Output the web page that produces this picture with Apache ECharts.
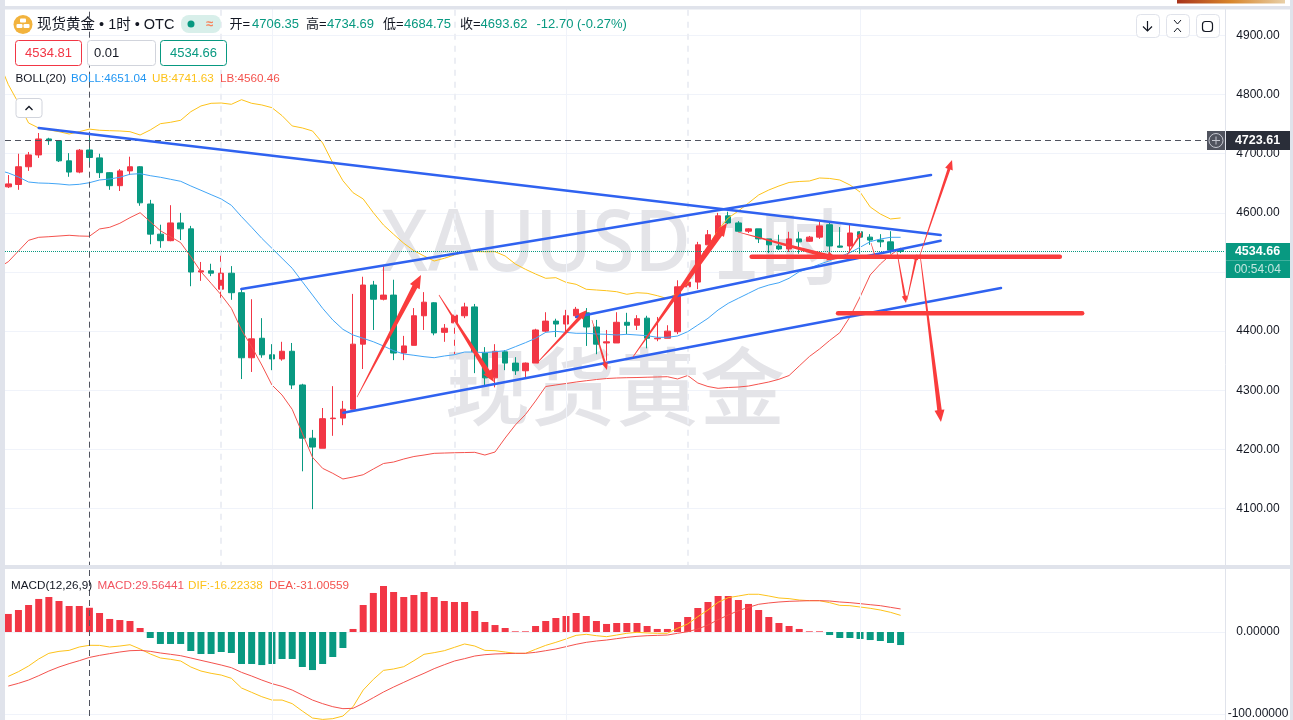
<!DOCTYPE html>
<html><head><meta charset="utf-8">
<style>html,body{margin:0;padding:0;background:#fff}#c{width:1293px;height:720px}</style>
<script src="https://cdn.jsdelivr.net/npm/echarts@6/dist/echarts.min.js"></script>
</head><body><div id="c"></div>
<script>
const opens=[4644,4648,4678,4698,4725,4722,4688,4669,4706.35,4693,
4668,4646,4671,4678,4615,4564,4553,4583,4573,4500,
4502,4471,4498,4465,4355,4388,4360,4353,4366,4309,
4219,4202,4252,4253,4268,4378,4478,4454,4461,4363,
4376,4426,4448,4398,4414,4426,4441,4363,4321,4365,
4346,4333,4346,4400,4417,4412,4426,4431,4407,4380,
4380,4415,4410,4422,4387,4388,4399,4475,4483,4546,
4563,4595,4583,4569,4573,4556,4544,4539,4556,4552,
4559,4580,4544,4544,4568,4559,4554,4551,4537];
const closes=[4649,4678,4698,4725,4722,4688,4669,4706,4693.62,4668,
4646,4671,4678,4617,4564,4553,4583,4573,4500,4502,
4498,4498,4465,4355,4387,4360,4353,4366,4309,4219,
4204,4252,4253,4268,4378,4478,4454,4461,4363,4375,
4426,4449,4397,4405,4427,4441,4365,4321,4366,4346,
4333,4346,4402,4417,4412,4426,4437,4407,4378,4382,
4415,4410,4421,4388,4388,4400,4475,4483,4546,4563,
4595,4583,4569,4573,4556,4546,4539,4556,4551,4559,
4578,4544,4542,4566,4559,4554,4551,4537,4534.66];
const lows=[4642,4639,4671,4693,4715,4686,4661,4667,4684.75,4659,
4639,4637,4664,4612,4547,4541,4552,4554,4476,4485,
4493,4448,4453,4319,4331,4355,4334,4350,4302,4163,
4099,4202,4223,4241,4268,4336,4402,4452,4351,4351,
4376,4402,4393,4382,4361,4422,4329,4309,4305,4334,
4326,4321,4346,4398,4390,4400,4422,4375,4361,4350,
4380,4395,4402,4371,4383,4388,4395,4471,4471,4546,
4563,4581,4568,4566,4549,4532,4537,4534,4531,4551,
4556,4531,4541,4532,4531,4546,4542,4531,4532];
const highs=[4664,4700,4703,4735,4727,4722,4701,4708,4734.69,4700,
4669,4674,4695,4679,4622,4580,4613,4600,4578,4517,
4514,4536,4510,4473,4454,4422,4378,4382,4380,4311,
4233,4270,4307,4282,4463,4492,4485,4510,4487,4392,
4439,4466,4449,4412,4430,4448,4446,4373,4378,4368,
4356,4347,4404,4432,4421,4436,4441,4439,4419,4402,
4432,4431,4427,4426,4424,4410,4486,4491,4551,4571,
4600,4602,4586,4574,4573,4556,4563,4568,4568,4561,
4585,4583,4576,4580,4569,4564,4564,4569,4538];
// Bollinger bands; first entry belongs to the candle just left of the visible range
const bollUpper=[4858.6,4817,4785.8,4752,4743.6,4740.2,4737.3,4733.4,4737.3,4741.63,4739.7,
4739,4738.5,4737.3,4731.7,4740.2,4750.8,4753.2,4756.6,4771.1,4780.8,
4785.3,4785.8,4783.6,4791.4,4785.3,4782.5,4777.9,4764.4,4747,4743.6,
4738.5,4718.2,4684.4,4654.4,4634.1,4623.5,4600.3,4579.5,4563.8,4548.6,
4536.1,4527.1,4518.6,4523.2,4528.8,4534.4,4534.5,4534.3,4534.4,4527.1,
4513.6,4504.6,4496.6,4489.4,4490.4,4482.6,4479.2,4470.8,4469.6,4468.4,
4466.7,4462.3,4465,4464,4460,4454.9,4464.5,4481.4,4511.9,4542.3,
4571.1,4591.4,4603.2,4616.7,4630.3,4638.7,4645.5,4651.4,4653.1,4653.9,
4659,4658.2,4655.6,4647.2,4635.3,4610,4598.1,4589.7,4591.4];
const bollMid=[4672.5,4667.5,4660.7,4652.2,4650.5,4650,4648.9,4647.2,4648.3,4651.04,4655.6,
4657.3,4660.2,4665.3,4666.3,4662.9,4660.2,4656.8,4653.4,4645.5,4638.2,
4630.8,4623.5,4612.8,4593.6,4575.6,4557,4540.1,4523.2,4506.3,4483.6,
4461.1,4438.6,4418.9,4403.1,4393.5,4387.9,4382.1,4374.9,4366.9,4361.4,
4359.2,4356.8,4355.1,4358,4360.2,4364.7,4364.7,4363.5,4365.2,4366.9,
4373.7,4380.5,4387.9,4398,4399.7,4398,4396.4,4396.4,4395.2,4394.7,
4393.5,4394.7,4393.5,4392.3,4389.6,4389.6,4391.8,4399.1,4410.4,4421.7,
4435.8,4447.1,4455.6,4464,4472.5,4478,4481.9,4489.4,4500.5,4506.3,
4513.1,4519.1,4525.9,4532.7,4541.8,4551.3,4555.8,4558.7,4558.7];
const bollLower=[4507,4517.4,4535.5,4553.6,4558.7,4559.7,4560.9,4562.1,4560.9,4560.46,4572.8,
4575.6,4582.4,4591.9,4600.3,4585.1,4569.9,4559.7,4549.6,4525.9,4500.5,
4480.9,4461.1,4438.6,4402,4373.7,4342.7,4309,4292,4267.8,4227.2,
4186.7,4168,4159.6,4150,4153.3,4157.2,4166.9,4176.2,4178.7,4183.8,
4188,4190.5,4193.4,4193.9,4194.4,4194.7,4195.1,4190.5,4195.6,4219.3,
4241.3,4259,4281.9,4306.4,4309,4311.5,4314,4316.2,4318.2,4319.9,
4320.8,4321.3,4321.6,4322.1,4322.5,4323,4319.1,4325,4312.3,4306.4,
4303.3,4304.7,4305.5,4307.2,4310.6,4314,4318.6,4325,4341.1,4357.1,
4369.8,4384.2,4397.4,4423.9,4457.8,4495,4513.6,4528.8,4540.6];
const macdHist=[22,26.8,32.9,40.3,42.7,37.8,31.7,31.7,29.56,23.2,
15.9,14.6,13.4,4.9,-7.3,-14.6,-14.6,-14.6,-23.2,-26.8,
-26.8,-24.4,-25.6,-39,-39,-40.3,-39,-32.9,-32.9,-42.7,
-46.4,-39,-30.5,-19.5,3.7,32.9,47.6,56.1,48.8,42.7,
45.1,48.8,42.7,37.8,36.6,36.6,25.6,12.2,8.5,4.9,
0.8,0.8,7.3,13.4,17.1,19.5,23.2,19.5,13.4,9.8,
11,11,11,7.3,3.7,3.7,12.2,18.3,29.3,36.6,
43.9,43.9,39,34.2,26.8,18.3,11,7.3,3.7,0.8,
0.8,-3.7,-7.3,-7.3,-8.5,-9.8,-11,-13.4,-15.9];
const macdDif=[-54.1,-48.4,-41.5,-32.9,-26,-23.6,-22.4,-18.3,-16.22,-16.3,
-18.3,-17.1,-15.5,-20.7,-26.8,-31.7,-33.3,-35.4,-42.7,-47.6,
-50.4,-52.5,-56.5,-68.3,-73.6,-78.9,-83,-83,-87.4,-96.4,
-104.9,-106.6,-105.7,-102.5,-91.1,-70.8,-57.8,-46.8,-45.1,-42.3,
-35,-27.2,-25.2,-22.8,-18.7,-14.6,-17.1,-22.4,-22.8,-24.4,
-26,-26,-21.1,-16.3,-12.6,-8.5,-4.1,-2.8,-4.5,-5.7,
-3.7,-1.6,-0.4,-1.2,-1.6,-1.6,4.5,9.8,18.7,26.8,
36.2,41.9,43.9,46,46,43.9,41.5,40.7,39,38.2,
38.2,35.8,32.5,32.1,30.5,28.9,26.8,24,20.3];
const macdDea=[-65.9,-62.6,-58.6,-53.3,-47.6,-42.7,-38.6,-35,-31.01,-28.5,
-26.4,-24.4,-22.8,-22.4,-23.6,-25.6,-27.2,-28.9,-31.7,-34.6,
-37.4,-40.3,-43.5,-49.2,-53.7,-58.6,-63,-66.3,-70.8,-76.9,
-83,-87.4,-91.1,-93.5,-93.1,-87,-80.1,-73.2,-67.1,-61.4,
-55.7,-50.4,-44.7,-39.9,-35.4,-32.5,-29.3,-27.7,-26.8,-26.4,
-26,-26,-24.8,-22.8,-20.7,-17.9,-15,-12.6,-11,-9.8,
-8.1,-6.5,-5.3,-4.5,-4.1,-3.7,-1.6,0.4,3.7,8.5,
15,20.7,26,30.1,33.8,35.4,36.6,37.4,37.8,38.2,
38.2,37.8,36.6,35.8,34.6,33.3,32.1,30.1,28.1];
// drawn objects in candle-index / price coordinates
const trendLines=[[3,4743.6,91.95,4562.6],[22.98,4471.3,91,4664.1],[33.04,4262.1,97.9,4473],[56.03,4423.9,91.95,4553]];
const levelLines=[[73.31,4525.9,103.7,4525.9],[81.83,4430.2,105.9,4430.2]];
const arrows=[[34.39,4288.6,40.7,4495],[42.47,4461.1,47.9,4314],[52.14,4346.1,57.07,4435.8],[57.56,4418.9,59.04,4334.3],
[61.6,4356.3,70.88,4582.9],[71.96,4567.7,81.82,4522],[82.71,4528.8,84.19,4567.7],[85.08,4549.1,85.47,4527.1],
[87.64,4533.9,88.53,4447.6],[88.63,4452.7,89.62,4530.5],[89.91,4530.5,91.98,4246.4],[89.91,4528.8,93.07,4689.4]];
const arrowShaft=[5.5,5,3.5,2.2,6.5,4.5,2.2,1,2.2,2.2,4.5,3];
const arrowHead=[11,10,8,6,11,9,5,1,6,5,10,8];
const sessionMarks=[21,44,67];
const gridMarks=[26,55,84];
const crosshairIndex=8, crosshairPrice=4723.61, lastPrice=4534.66;
const priceTicks={min:4000,max:4950,step:100};
const macdTicks={min:-200,max:80,step:100};

const RED='#f23645',GREEN='#089981',GRID='#f0f3fa',BAND='#e0e3eb',ARROW='#fa3c3c',TREND='#2f62f0',CROSS='#50535e';
const LATIN='"Liberation Sans","Noto Sans CJK SC",sans-serif';
const X0=-0.325,X1=119.99;
const idx=a=>a.map((v,i)=>[i,v]);
const idxBoll=a=>a.map((v,i)=>[i-1,v]);
const candleData=opens.map((o,i)=>[i,o,closes[i],lows[i],highs[i]]);

function lineS(name,data,color,g,z,w){return{name,type:'line',data,xAxisIndex:g,yAxisIndex:g,symbol:'none',silent:true,z:z||3,lineStyle:{color,width:w||1},clip:true};}
function vMark(i,color,type,width){return{xAxis:i,lineStyle:{color,type,width}};}
function marksSeries(g,y,data,z){return{type:'line',xAxisIndex:g,yAxisIndex:g,data:[[0,y]],symbol:'none',silent:true,z:z,lineStyle:{width:0},
 markLine:{silent:true,symbol:'none',label:{show:false},animation:false,precision:4,data}};}

const grey='#d1d4dc';
function t(x,y,text,color,size,o){o=o||{};return{type:'text',x,y,z:o.z||110,silent:true,scaleY:o.scaleY||1,
 style:{text,fill:color,font:(o.weight?o.weight+' ':'')+size+'px '+(o.family||LATIN),textAlign:o.align||'left',textVerticalAlign:'middle',textBaseline:'middle'}};}
function r(x,y,w,h,fill,o){o=o||{};return{type:'rect',silent:true,z:o.z||105,shape:{x,y,width:w,height:h,r:o.r||0},style:{fill,stroke:o.stroke||null,lineWidth:o.lw||1}};}
function seg(x1,y1,x2,y2,color,w,z){return{type:'line',silent:true,z:z||110,shape:{x1,y1,x2,y2},style:{stroke:color,lineWidth:w||1}};}
function btn(x){return r(x+.5,14.5,23,23,'#fff',{stroke:'#e0e3eb',r:4,lw:1});}

const graphic=[
 // watermark
 t(381,247,'XAUUSD',"#e4e4e8",77,{z:1,scaleY:1.1,weight:500,family:'"Noto Sans",sans-serif'}),
 t(684,247,',',"#e4e4e8",77,{z:1,weight:500,family:'"Noto Sans",sans-serif'}),
 t(712,247,'1时',"#e4e4e8",84,{z:1,weight:500,family:'"Noto Sans CJK SC",sans-serif'}),
 t(445,387,'现货黄金',"#e4e4e8",85,{z:1,weight:500,family:'"Noto Sans CJK SC",sans-serif'}),
 // frame
 r(0,0,1293,6,'#fff'),r(0,6,1293,3.5,BAND),r(0,0,5,720,BAND),r(1290,0,3,720,BAND),r(5,565,1285,4,BAND),
 {type:'rect',silent:true,z:106,shape:{x:1177,y:0,width:108,height:3.5},style:{fill:{type:'linear',x:0,y:0,x2:1,y2:0,colorStops:[{offset:0,color:'#a8321a'},{offset:.5,color:'#d8862c'},{offset:1,color:'#e8d0a8'}]}}},
 seg(1225.5,9,1225.5,720,BAND,1,105),
 // header
 {type:'circle',silent:true,z:106,shape:{cx:23,cy:24.5,r:9.5},style:{fill:'#f2b33d'}},
 r(20,18.5,6,4,'#fff',{z:107,r:1}),r(16.5,24,6,4,'#fff',{z:107,r:1}),r(23.5,24,6,4,'#fff',{z:107,r:1}),
 t(37,24.5,'现货黄金 • 1时 • OTC','#131722',14.5),
 r(181,15,40,18,'#d8efea',{r:8}),
 {type:'circle',silent:true,z:110,shape:{cx:191,cy:24,r:3.5},style:{fill:GREEN}},
 t(206,24,'≈','#f7825a',13,{weight:'bold'}),
 t(229.5,24.5,'开=','#131722',13),t(252,24.5,'4706.35',GREEN,13),
 t(306,24.5,'高=','#131722',13),t(327,24.5,'4734.69',GREEN,13),
 t(383,24.5,'低=','#131722',13),t(404,24.5,'4684.75',GREEN,13),
 t(460,24.5,'收=','#131722',13),t(480.5,24.5,'4693.62',GREEN,13),
 t(536.5,24.5,'-12.70 (-0.27%)',GREEN,13),
 // order boxes
 r(15.5,40.5,66,25,'#fff',{stroke:RED,r:3}),t(48.5,53.5,'4534.81',RED,13,{align:'center'}),
 r(87.5,40.5,68,25,'#fff',{stroke:grey,r:3}),t(94,53.5,'0.01','#131722',13),
 r(160.5,40.5,66,25,'#fff',{stroke:GREEN,r:3}),t(193.5,53.5,'4534.66',GREEN,13,{align:'center'}),
 // indicator legends
 t(15.5,79,'BOLL(20)','#131722',11.7),t(71,79,'BOLL:4651.04','#2196f3',11.7),t(152,79,'UB:4741.63','#fdc21a',11.7),t(220,79,'LB:4560.46','#f4524d',11.7),
 r(16,98.5,26,19,'#fff',{stroke:grey,r:3}),
 {type:'polyline',silent:true,z:110,shape:{points:[[25.5,110],[29,106.5],[32.5,110]]},style:{stroke:'#131722',lineWidth:1.3,fill:null}},
 t(11,586,'MACD(12,26,9)','#131722',11.7),t(97.5,586,'MACD:29.56441','#f2525f',11.7),t(188,586,'DIF:-16.22338','#fdc21a',11.7),t(269,586,'DEA:-31.00559','#f4524d',11.7),
 // toolbar
 btn(1136),btn(1166),btn(1196),
 seg(1147.5,21,1147.5,31,'#131722',1.2),
 {type:'polyline',silent:true,z:110,shape:{points:[[1143,26.5],[1147.5,31],[1152,26.5]]},style:{stroke:'#131722',lineWidth:1.2,fill:null}},
 {type:'polyline',silent:true,z:110,shape:{points:[[1174,20],[1177.5,24],[1181,20]]},style:{stroke:'#131722',lineWidth:1,fill:null}},
 {type:'polyline',silent:true,z:110,shape:{points:[[1174,32],[1177.5,28],[1181,32]]},style:{stroke:'#131722',lineWidth:1,fill:null}},
 r(1202.5,21.5,10,10,'#fff',{stroke:'#131722',r:3,lw:1.2,z:110}),
 // tags
 r(1207,131,18,19,CROSS,{z:108}),
 {type:'circle',silent:true,z:110,shape:{cx:1216,cy:140.5,r:7},style:{fill:null,stroke:'#c4c6cf',lineWidth:1}},
 seg(1212,140.5,1220,140.5,'#c4c6cf',1),seg(1216,136.5,1216,144.5,'#c4c6cf',1),
 r(1226,131,64,19,'#2a2e39',{z:108}),t(1257.5,140.5,'4723.61','#fff',12.5,{align:'center',weight:'bold'}),
 r(1226,243,64,35,GREEN,{z:108}),seg(1226,260.5,1290,260.5,'#3fb09d',1),
 t(1257.5,252,'4534.66','#fff',12.5,{align:'center',weight:'bold'}),t(1257.5,270,'00:54:04','#c3e6df',12,{align:'center'})
];

function renderSeg(color,width){return (p,api)=>{const a=api.coord([api.value(0),api.value(1)]),b=api.coord([api.value(2),api.value(3)]);
 return{type:'line',shape:{x1:a[0],y1:a[1],x2:b[0],y2:b[1]},style:{stroke:color,lineWidth:width,lineCap:'round'}};};}
function renderArrow(p,api){const a=api.coord([api.value(0),api.value(1)]),b=api.coord([api.value(2),api.value(3)]);
 const w=arrowShaft[p.dataIndex],h=arrowHead[p.dataIndex];
 const dx=b[0]-a[0],dy=b[1]-a[1],L=Math.hypot(dx,dy),ux=dx/L,uy=dy/L,nx=-uy,ny=ux,hl=Math.min(h*1.2,L*.4);
 const nk=[b[0]-ux*hl,b[1]-uy*hl];
 const pts=[[a[0]+nx*.3,a[1]+ny*.3],[nk[0]+nx*w/2,nk[1]+ny*w/2],[nk[0]+nx*h/2,nk[1]+ny*h/2],b,[nk[0]-nx*h/2,nk[1]-ny*h/2],[nk[0]-nx*w/2,nk[1]-ny*w/2],[a[0]-nx*.3,a[1]-ny*.3]];
 return{type:'polygon',shape:{points:pts},style:{fill:ARROW}};}

const fmt2=v=>v.toFixed(2),fmt5=v=>v.toFixed(5);
const xAx=g=>({type:'value',gridIndex:g,min:X0,max:X1,show:false,splitLine:{show:false}});
const yAx=(g,tk,f)=>({type:'value',gridIndex:g,position:'right',min:tk.min,max:tk.max,interval:tk.step,
 axisLine:{show:false},axisTick:{show:false},
 axisLabel:{color:'#131722',fontSize:12,fontFamily:LATIN,align:'center',margin:33,showMinLabel:false,showMaxLabel:false,formatter:f},
 splitLine:{show:true,lineStyle:{color:GRID,width:1}}});

const option={animation:false,backgroundColor:'#fff',
 grid:[{left:5,width:1220,top:5.9,height:561.8,outerBoundsMode:'none'},{left:5,width:1220,top:566.4,height:229.6,outerBoundsMode:'none'}],
 xAxis:[xAx(0),xAx(1)],
 yAxis:[yAx(0,priceTicks,fmt2),yAx(1,macdTicks,v=>v===-200?'':fmt5(v))],
 graphic:{elements:graphic},
 series:[
  marksSeries(0,4500,[...sessionMarks.map(i=>vMark(i,'#eceef4',[6,6],2)),...gridMarks.map(i=>vMark(i,GRID,'solid',1))],1),
  marksSeries(1,0,gridMarks.map(i=>vMark(i,GRID,'solid',1)),1),
  {name:'K',type:'candlestick',xAxisIndex:0,yAxisIndex:0,data:candleData,barWidth:6,z:2,silent:true,
   encode:{x:0,y:[1,2,3,4]},
   itemStyle:{color:RED,color0:GREEN,borderColor:RED,borderColor0:GREEN,borderWidth:1}},
  lineS('UB',idxBoll(bollUpper),'#fdc21a',0),
  lineS('BOLL',idxBoll(bollMid),'#42a5f5',0),
  lineS('LB',idxBoll(bollLower),'#f4524d',0),
  marksSeries(0,4500,[{yAxis:lastPrice,lineStyle:{color:GREEN,type:'dotted',width:1}},
   {yAxis:crosshairPrice,lineStyle:{color:CROSS,type:[6,4],width:1}},
   vMark(crosshairIndex,CROSS,[6,4],1)],4),
  marksSeries(1,0,[vMark(crosshairIndex,CROSS,[6,4],1)],4),
  {type:'custom',name:'trend',xAxisIndex:0,yAxisIndex:0,data:trendLines,renderItem:renderSeg(TREND,2.5),z:6,silent:true,clip:false},
  {type:'custom',name:'levels',xAxisIndex:0,yAxisIndex:0,data:levelLines,renderItem:renderSeg(ARROW,4.5),z:7,silent:true,clip:false},
  {type:'custom',name:'arrows',xAxisIndex:0,yAxisIndex:0,data:arrows,renderItem:renderArrow,z:7,silent:true,clip:false},
  {name:'MACD',type:'bar',xAxisIndex:1,yAxisIndex:1,data:idx(macdHist),barWidth:7,z:2,silent:true,
   itemStyle:{color:p=>p.value[1]>=0?RED:GREEN}},
  lineS('DIF',idx(macdDif),'#fdc21a',1),
  lineS('DEA',idx(macdDea),'#f4524d',1)
 ]};
const chart=echarts.init(document.getElementById('c'),null,{renderer:'canvas',width:1293,height:720});
chart.setOption(option);
</script></body></html>
